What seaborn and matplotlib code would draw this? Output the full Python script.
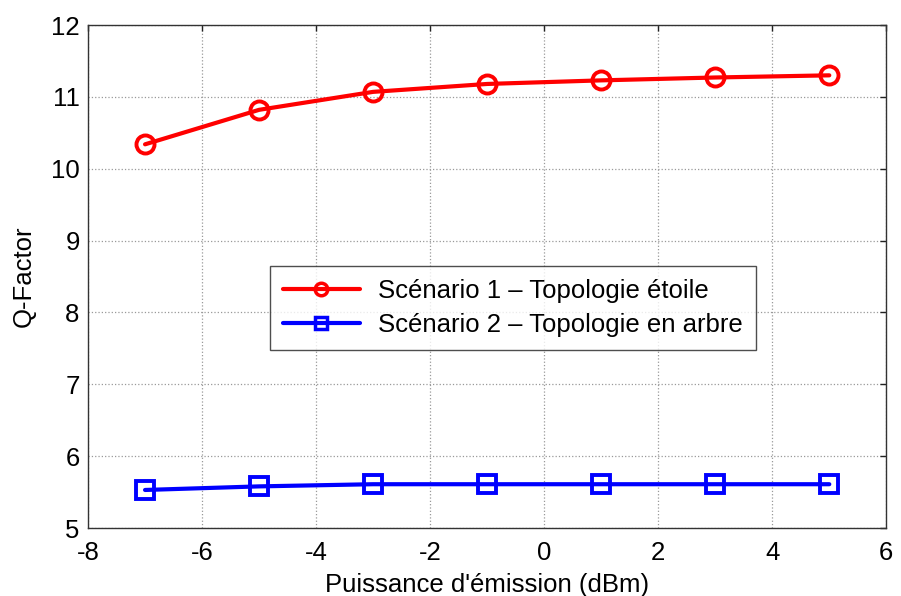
import matplotlib
matplotlib.use("Agg")
import matplotlib.pyplot as plt
from matplotlib.lines import Line2D
import seaborn as sns
import pandas as pd

# données
puissance = [-7, -5, -3, -1, 1, 3, 5]
q_etoile = [10.34, 10.82, 11.07, 11.18, 11.23, 11.27, 11.30]
q_arbre = [5.53, 5.58, 5.61, 5.61, 5.61, 5.61, 5.61]
noms = ["Scénario 1 \u2013 Topologie étoile", "Scénario 2 \u2013 Topologie en arbre"]
couleurs = ['#ff0000', '#0000ff']
marqueurs = ['o', 's']

sns.set_style("white")
plt.rcParams['font.family'] = ['Liberation Sans', 'DejaVu Sans']
plt.rcParams['axes.unicode_minus'] = False
plt.rcParams['text.color'] = 'black'

df = pd.DataFrame({
    'x': puissance * 2,
    'q': q_etoile + q_arbre,
    'scenario': [noms[0]] * len(puissance) + [noms[1]] * len(puissance),
})

fig = plt.figure(figsize=(9.01, 5.96), dpi=100)
ax = fig.add_axes([0.0977, 0.114, 0.886, 0.844])

sns.lineplot(data=df, x='x', y='q', hue='scenario', style='scenario',
             palette=couleurs, markers=marqueurs, dashes=False,
             linewidth=3, markersize=13, markerfacecolor='none',
             markeredgewidth=2.8, ax=ax, legend=False)
for line, c in zip(ax.lines, couleurs):
    line.set_markeredgecolor(c)

ax.set_xlim(-8, 6)
ax.set_ylim(5, 12)
ax.set_xticks(range(-8, 7, 2))
ax.set_yticks(range(5, 13))
ax.grid(True, linestyle=':', color='#999999', linewidth=0.9)
ax.tick_params(direction='in', top=True, right=True, labelsize=18.5,
               length=4, width=1, colors='#222222', labelcolor='black')
ax.tick_params(axis='x', pad=9)
ax.tick_params(axis='y', pad=6)
for s in ax.spines.values():
    s.set_color('#333333')
    s.set_linewidth(1)

ax.set_xlabel("Puissance d'émission (dBm)", fontsize=18.5, labelpad=6, color='black')
ax.set_ylabel("Q-Factor", fontsize=18.5, labelpad=11, color='black')

poignees = [Line2D([], [], color=c, marker=m, lw=3, markersize=9,
                   markerfacecolor='none', markeredgewidth=2.5)
            for c, m in zip(couleurs, marqueurs)]
leg = ax.legend(poignees, noms, loc='upper left', bbox_to_anchor=(0.228, 0.521),
                fontsize=18.5, frameon=True, fancybox=False, edgecolor='#222222',
                handlelength=3.0, handletextpad=0.7, borderpad=0.5,
                labelspacing=0.4, borderaxespad=0)
leg.get_frame().set_linewidth(1)
for t in leg.get_texts():
    t.set_color('black')

fig.savefig("out.png", dpi=100)
